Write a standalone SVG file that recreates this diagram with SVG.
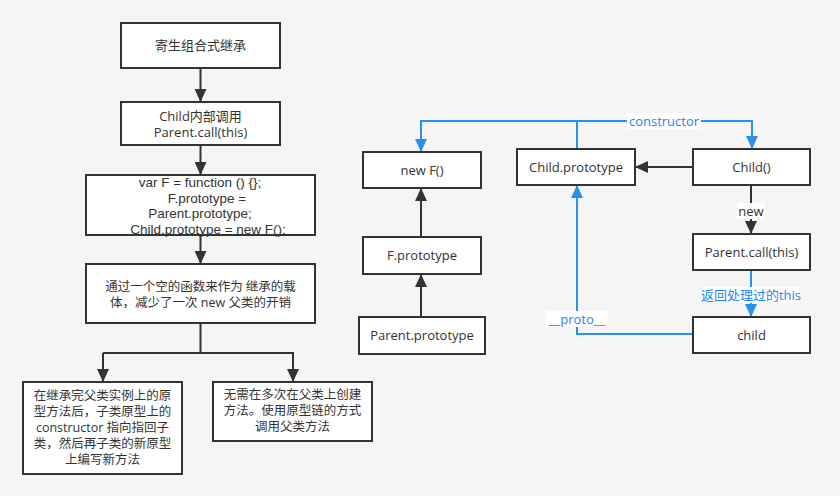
<svg xmlns="http://www.w3.org/2000/svg" width="840" height="496" viewBox="0 0 840 496">
<style>
.box{fill:#ffffff;stroke:#333333;stroke-width:2}
.t{font-family:"Open Sans","Noto Sans CJK SC",sans-serif;font-size:13px;fill:#333333;text-anchor:middle}
.m{font-family:"Liberation Sans","Noto Sans CJK SC",sans-serif;font-size:13.5px;fill:#333333;text-anchor:middle}
.c{font-family:"Open Sans","Noto Sans CJK SC",sans-serif;font-size:12.5px;fill:#333333;text-anchor:middle}
.bl{font-family:"Open Sans","Noto Sans CJK SC",sans-serif;font-size:13px;fill:#1f86ec;text-anchor:middle}
.k{fill:none;stroke:#333333;stroke-width:2}
.b{fill:none;stroke:#2b8ff0;stroke-width:2}
.lb{fill:#ffffff}
</style>
<defs>
<marker id="ak" markerUnits="userSpaceOnUse" markerWidth="14" markerHeight="12" refX="13" refY="6" orient="auto">
<path d="M0,0 L13,6 L0,12 z" fill="#333333"/>
</marker>
<marker id="ab" markerUnits="userSpaceOnUse" markerWidth="14" markerHeight="12" refX="13" refY="6" orient="auto">
<path d="M0,0 L13,6 L0,12 z" fill="#2b8ff0"/>
</marker>
</defs>
<rect width="840" height="496" fill="#f5f5f6"/>
<g id="connectors">
<path class="k" d="M200.5 68 V102" marker-end="url(#ak)"/>
<path class="k" d="M200.5 145 V175" marker-end="url(#ak)"/>
<path class="k" d="M200.5 235 V264" marker-end="url(#ak)"/>
<path class="k" d="M200.5 323 V353"/>
<path class="k" d="M103 353 H293 V382" marker-end="url(#ak)"/>
<path class="k" d="M103 353 V382" marker-end="url(#ak)"/>
<path class="k" d="M421 237 V188" marker-end="url(#ak)"/>
<path class="k" d="M421 317 V274" marker-end="url(#ak)"/>
<path class="k" d="M693 167 H635" marker-end="url(#ak)"/>
<path class="k" d="M751 185 V234" marker-end="url(#ak)"/>
<rect class="lb" x="737" y="203" width="28" height="16"/>
<text class="t" x="751" y="215.5">new</text>
<path class="b" d="M577 149 V121 H421 V152" marker-end="url(#ab)"/>
<path class="b" d="M577 121 H752 V149" marker-end="url(#ab)"/>
<rect class="lb" x="627" y="113" width="74" height="16"/>
<text class="bl" x="664" y="125.5">constructor</text>
<path class="b" d="M751 270 V317" marker-end="url(#ab)"/>
<rect class="lb" x="703" y="287" width="96" height="16"/>
<text class="bl" x="751" y="299.5">返回处理过的this</text>
<path class="b" d="M693 334 H577 V185" marker-end="url(#ab)"/>
<rect class="lb" x="546" y="311" width="62" height="16"/>
<text class="bl" x="577" y="323.5">__proto__</text>
</g>
<g id="n1"><rect class="box" x="121" y="23" width="159" height="45"/><text class="t" x="200.5" y="50">寄生组合式继承</text></g>
<g id="n2"><rect class="box" x="121" y="102" width="159" height="43"/><text class="t" x="200.5" y="120.5">Child内部调用</text><text class="t" x="200.5" y="137">Parent.call(this)</text></g>
<g id="n3"><rect class="box" x="86" y="175" width="229" height="60"/>
<text class="m" x="200" y="187">var F = function () {};</text>
<text class="m" x="207" y="202.5">F.prototype =</text>
<text class="m" x="200" y="218">Parent.prototype;</text>
<text class="m" x="208" y="233.5">Child.prototype = new F();</text></g>
<g id="n4"><rect class="box" x="86" y="264" width="229" height="59"/>
<text class="c" x="200.5" y="291">通过一个空的函数来作为 继承的载</text>
<text class="c" x="200.5" y="307">体，减少了一次 new 父类的开销</text></g>
<g id="n5"><rect class="box" x="23" y="382" width="159" height="92"/>
<text class="c" x="102.5" y="400">在继承完父类实例上的原</text>
<text class="c" x="102.5" y="416">型方法后，子类原型上的</text>
<text class="c" x="102.5" y="432">constructor 指向指回子</text>
<text class="c" x="102.5" y="448">类，然后再子类的新原型</text>
<text class="c" x="102.5" y="464">上编写新方法</text></g>
<g id="n6"><rect class="box" x="213" y="382" width="159" height="59"/>
<text class="c" x="292.5" y="398.5">无需在多次在父类上创建</text>
<text class="c" x="292.5" y="414.5">方法。使用原型链的方式</text>
<text class="c" x="292.5" y="430.5">调用父类方法</text></g>
<g id="n7"><rect class="box" x="363" y="152" width="118" height="36"/><text class="t" x="422" y="174.5">new F()</text></g>
<g id="n8"><rect class="box" x="363" y="237" width="118" height="37"/><text class="t" x="422" y="260">F.prototype</text></g>
<g id="n9"><rect class="box" x="359" y="317" width="126" height="37"/><text class="t" x="422" y="340">Parent.prototype</text></g>
<g id="n10"><rect class="box" x="517" y="149" width="118" height="36"/><text class="t" x="576" y="171.5">Child.prototype</text></g>
<g id="n11"><rect class="box" x="693" y="149" width="117" height="36"/><text class="t" x="751.5" y="171.5">Child()</text></g>
<g id="n12"><rect class="box" x="693" y="234" width="117" height="36"/><text class="t" x="751.5" y="256.5">Parent.call(this)</text></g>
<g id="n13"><rect class="box" x="693" y="317" width="117" height="36"/><text class="t" x="751.5" y="339.5">child</text></g>
</svg>
